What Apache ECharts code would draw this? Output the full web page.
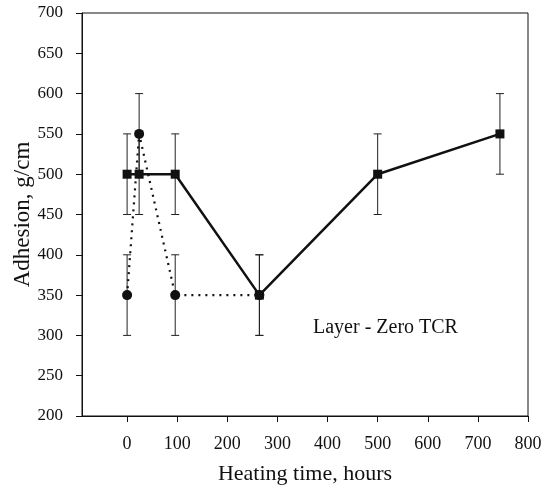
<!DOCTYPE html>
<html>
<head>
<meta charset="utf-8">
<script src="https://cdn.jsdelivr.net/npm/echarts@6/dist/echarts.min.js"></script>
<style>
  html, body { margin: 0; padding: 0; background: #fff; }
  #chart { width: 543px; height: 488px; }
</style>
</head>
<body>
<div id="chart"></div>
<script>
// solid line, squares
var solidHours = [0, 24, 96, 264, 500, 744];
var solidAdhesion = [500, 500, 500, 350, 500, 550];
var solidErr = [50, 50, 50, 50, 50, 50];
// dotted line, circles
var dottedHours = [0, 24, 96, 264];
var dottedAdhesion = [350, 550, 350, 350];
var dottedErr = [50, 50, 50, 50];
// x tick labels
var xTicks = [0, 100, 200, 300, 400, 500, 600, 700, 800];

var font = "Liberation Serif";

function pairs(xs, ys) {
  return xs.map(function (x, i) { return [x, ys[i]]; });
}
function errRows(xs, ys, es) {
  return xs.map(function (x, i) { return [x, ys[i] - es[i], ys[i] + es[i]]; });
}

// 误差棒
function renderErr(params, api) {
  var lo = api.coord([api.value(0), api.value(1)]);
  var hi = api.coord([api.value(0), api.value(2)]);
  var w = 4;
  var style = { stroke: "#222", lineWidth: 1 };
  return {
    type: "group",
    children: [
      { type: "line", shape: { x1: lo[0], y1: lo[1], x2: hi[0], y2: hi[1] }, style: style },
      { type: "line", shape: { x1: lo[0] - w, y1: lo[1], x2: lo[0] + w, y2: lo[1] }, style: style },
      { type: "line", shape: { x1: hi[0] - w, y1: hi[1], x2: hi[0] + w, y2: hi[1] }, style: style }
    ]
  };
}

var chart = echarts.init(document.getElementById("chart"));
var option = {
  animation: false,
  backgroundColor: "#fff",
  grid: {
    left: 82, right: 15, top: 13, bottom: 72,
    outerBoundsMode: "none",
    show: true, borderColor: "#111", borderWidth: 1
  },
  xAxis: {
    type: "value",
    min: -90,
    max: 800,
    name: "Heating time, hours",
    nameLocation: "middle",
    nameGap: 47,
    nameTextStyle: { fontFamily: font, fontSize: 22, color: "#111" },
    axisLine: { onZero: false, lineStyle: { color: "#111", width: 1 } },
    axisTick: { show: true, length: 6, lineStyle: { color: "#111" }, customValues: xTicks },
    axisLabel: { customValues: xTicks, fontFamily: font, fontSize: 18, color: "#111", margin: 19 },
    splitLine: { show: false }
  },
  yAxis: {
    type: "value",
    min: 200,
    max: 700,
    interval: 50,
    name: "Adhesion, g/cm",
    nameLocation: "middle",
    nameGap: 48,
    nameMoveOverlap: false,
    nameTextStyle: { fontFamily: font, fontSize: 23, color: "#111" },
    axisLine: { show: true, onZero: false, lineStyle: { color: "#111", width: 1 } },
    axisTick: { show: true, length: 6, lineStyle: { color: "#111" } },
    axisLabel: { fontFamily: font, fontSize: 17, color: "#111", margin: 19 },
    splitLine: { show: false }
  },
  graphic: [{
    type: "text",
    left: 313,
    top: 318,
    style: { text: "Layer - Zero TCR", fontFamily: font, fontSize: 20, fill: "#111" }
  }],
  series: [
    {
      type: "custom",
      renderItem: renderErr,
      data: errRows(dottedHours, dottedAdhesion, dottedErr),
      encode: { x: 0, y: [1, 2] },
      z: 1
    },
    {
      type: "custom",
      renderItem: renderErr,
      data: errRows(solidHours, solidAdhesion, solidErr),
      encode: { x: 0, y: [1, 2] },
      z: 1
    },
    {
      type: "line",
      data: pairs(dottedHours, dottedAdhesion),
      symbol: "circle",
      symbolSize: 10,
      itemStyle: { color: "#111" },
      lineStyle: { color: "#111", width: 2.2, type: [2, 5] },
      z: 2
    },
    {
      type: "line",
      data: pairs(solidHours, solidAdhesion),
      symbol: "rect",
      symbolSize: 9,
      itemStyle: { color: "#111" },
      lineStyle: { color: "#111", width: 2.5 },
      z: 3
    }
  ]
};
chart.setOption(option);
</script>
</body>
</html>
